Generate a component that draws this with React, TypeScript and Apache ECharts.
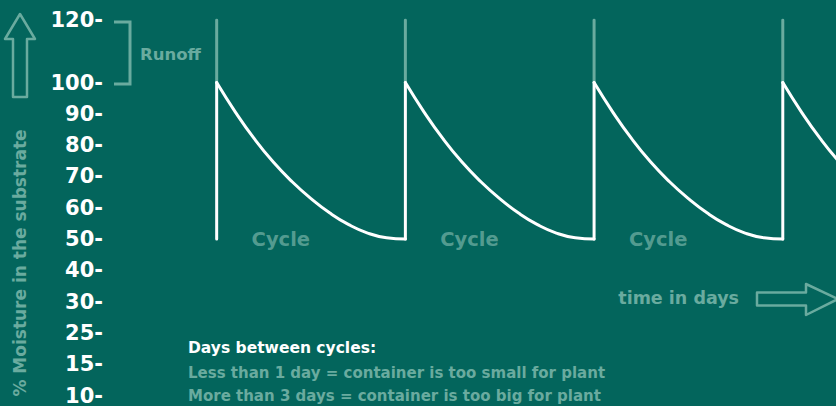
import React, { useEffect, useRef } from "react";
import * as echarts from "echarts";

// Y-axis tick values (as printed) and their labels; 110 has no label
const tickValues = [10, 15, 25, 30, 40, 50, 60, 70, 80, 90, 100, 110, 120];
const tickLabels = ["10", "15", "25", "30", "40", "50", "60", "70", "80", "90", "100", "", "120"];

// Cycle start days (watering events)
const cycleStarts = [0, 1, 2, 3];
// Drying curve within one cycle: fraction of cycle and % moisture
const dryX = [0, 0.1, 0.2, 0.3, 0.4, 0.5, 0.6, 0.7, 0.8, 0.9, 1];
const dryY = [100, 90.5, 82, 74.6, 68.3, 62.9, 58.3, 54.6, 51.9, 50.4, 50];
const wetLow = 50;
const wetHigh = 100;
const runoffTop = 120;
const cycleLabel = "Cycle";
const cycleLabelOffset = 0.34;
const cycleLabelCount = 3;

const BG = "#03655c";
const PALE = "#6aab9f";
const FONT = "'DejaVu Sans', sans-serif";

function toSlot(v: number): number {
  for (let i = 0; i < tickValues.length - 1; i++) {
    const a = tickValues[i];
    const b = tickValues[i + 1];
    if (v >= a && v <= b) return i + (v - a) / (b - a);
  }
  return v < tickValues[0] ? 0 : tickValues.length - 1;
}

export default function App() {
  const ref = useRef<HTMLDivElement>(null);
  useEffect(() => {
    if (!ref.current) return;
    const chart = echarts.init(ref.current, undefined, { renderer: "svg" });

    const dryData: any[] = [];
    const wetData: any[] = [];
    const runoffData: any[] = [];
    cycleStarts.forEach((c) => {
      dryX.forEach((x, i) => dryData.push([c + x, toSlot(dryY[i])]));
      dryData.push(null);
      wetData.push([c, toSlot(wetLow)], [c, toSlot(wetHigh)], null);
      runoffData.push([c, toSlot(wetHigh)], [c, toSlot(runoffTop)], null);
    });
    const labelData = cycleStarts
      .slice(0, cycleLabelCount)
      .map((c) => [c + cycleLabelOffset, toSlot(wetLow)]);

    chart.setOption({
      animation: false,
      backgroundColor: BG,
      grid: { left: 111, right: 0, top: 20, bottom: 8 },
      xAxis: {
        type: "value",
        min: -0.56,
        max: 3.282,
        show: false,
      },
      yAxis: {
        type: "value",
        min: 0,
        max: 12,
        interval: 1,
        axisLine: { show: false },
        axisTick: { show: false },
        splitLine: { show: false },
        axisLabel: {
          margin: 8,
          color: "#ffffff",
          fontWeight: "bold",
          fontSize: 21,
          fontFamily: FONT,
          formatter: (v: number) => {
            const l = tickLabels[Math.round(v)];
            return l ? l + "-" : "";
          },
        },
      },
      series: [
        {
          type: "line",
          data: runoffData,
          symbol: "none",
          connectNulls: false,
          lineStyle: { color: PALE, width: 3, cap: "round" },
          z: 2,
        },
        {
          type: "line",
          data: wetData,
          symbol: "none",
          connectNulls: false,
          lineStyle: { color: "#ffffff", width: 3, cap: "round" },
          z: 3,
        },
        {
          type: "line",
          data: dryData,
          symbol: "none",
          smooth: 0.5,
          connectNulls: false,
          lineStyle: { color: "#ffffff", width: 3, cap: "round", join: "round" },
          z: 3,
        },
        {
          type: "scatter",
          data: labelData,
          symbolSize: 0,
          label: {
            show: true,
            position: "inside",
            formatter: cycleLabel,
            color: PALE,
            fontWeight: "bold",
            fontSize: 19.5,
            fontFamily: FONT,
          },
          z: 4,
        },
      ],
      graphic: [
        {
          type: "polygon",
          shape: { points: [[20, 14], [35, 39], [27, 39], [27, 97], [13, 97], [13, 39], [5, 39]] },
          style: { fill: "none", stroke: PALE, lineWidth: 2.5, lineJoin: "round" },
        },
        {
          type: "polygon",
          shape: {
            points: [[757, 292.5], [806, 292.5], [806, 284], [838, 299], [806, 315], [806, 305.5], [757, 305.5]],
          },
          style: { fill: "none", stroke: PALE, lineWidth: 2.5, lineJoin: "round" },
        },
        {
          type: "polyline",
          shape: { points: [[114, 22], [130, 22], [130, 84], [114, 84]] },
          style: { fill: "none", stroke: PALE, lineWidth: 3 },
        },
        {
          type: "text",
          x: 140,
          y: 54,
          style: {
            text: "Runoff",
            fill: PALE,
            font: `bold 16.5px ${FONT}`,
            textAlign: "left",
            textVerticalAlign: "middle",
          },
        },
        {
          type: "text",
          x: 20,
          y: 263,
          rotation: Math.PI / 2,
          style: {
            text: "% Moisture in the substrate",
            fill: PALE,
            font: `bold 17px ${FONT}`,
            textAlign: "center",
            textVerticalAlign: "middle",
          },
        },
        {
          type: "text",
          x: 739,
          y: 298,
          style: {
            text: "time in days",
            fill: PALE,
            font: `bold 17.5px ${FONT}`,
            textAlign: "right",
            textVerticalAlign: "middle",
          },
        },
        {
          type: "text",
          x: 188,
          y: 348,
          style: {
            text: "Days between cycles:",
            fill: "#ffffff",
            font: `bold 15.5px ${FONT}`,
            textAlign: "left",
            textVerticalAlign: "middle",
          },
        },
        {
          type: "text",
          x: 188,
          y: 373,
          style: {
            text: "Less than 1 day = container is too small for plant",
            fill: PALE,
            font: `bold 15px ${FONT}`,
            textAlign: "left",
            textVerticalAlign: "middle",
          },
        },
        {
          type: "text",
          x: 188,
          y: 396,
          style: {
            text: "More than 3 days = container is too big for plant",
            fill: PALE,
            font: `bold 15px ${FONT}`,
            textAlign: "left",
            textVerticalAlign: "middle",
          },
        },
      ],
    });
    return () => chart.dispose();
  }, []);
  return (
    <div
      ref={ref}
      style={{ position: "fixed", left: 0, top: 0, width: 836, height: 406 }}
    />
  );
}
